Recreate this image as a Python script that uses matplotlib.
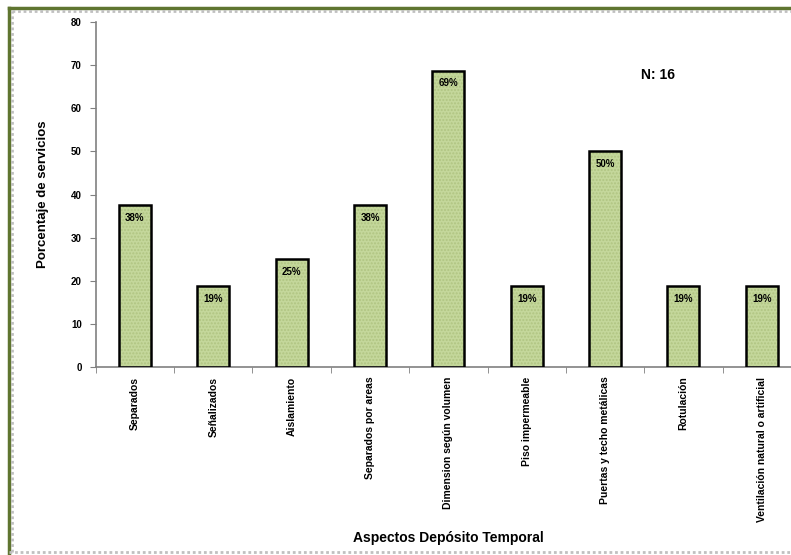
import numpy as np
import matplotlib
matplotlib.use('Agg')
import matplotlib.pyplot as plt
from matplotlib.lines import Line2D

plt.rcParams['font.family'] = ['Liberation Sans', 'DejaVu Sans']
plt.rcParams['font.weight'] = 'bold'

# data
categorias = ['Separados', 'Señalizados', 'Aislamiento', 'Separados por areas',
              'Dimension según volumen', 'Piso impermeable',
              'Puertas y techo metálicas', 'Rotulación',
              'Ventilación natural o artificial']
porcentajes = [37.5, 18.75, 25.0, 37.5, 68.75, 18.75, 50.0, 18.75, 18.75]
etiquetas = ['38%', '19%', '25%', '38%', '69%', '19%', '50%', '19%', '19%']
y_ticks = [0, 10, 20, 30, 40, 50, 60, 70, 80]

fig = plt.figure(figsize=(7.91, 5.55), dpi=100)
ax = fig.add_axes([0.121, 0.3387, 0.8916, 0.6216])

x = np.arange(len(categorias))
# textured fill, then the black outline
ax.bar(x, porcentajes, width=0.41, color='#c4d79b', edgecolor='#b0c482',
       hatch='.....', linewidth=0, zorder=2)
ax.bar(x, porcentajes, width=0.41, color='none', edgecolor='black',
       linewidth=1.8, zorder=3)

for xi, v, lab in zip(x, porcentajes, etiquetas):
    ax.text(xi, v - 2.9, lab, ha='center', va='center', fontsize=7,
            fontweight='bold', zorder=4)

ax.set_xlim(-0.5, len(categorias) - 0.5)
ax.set_ylim(0, 80)
ax.set_yticks(y_ticks)
ax.tick_params(axis='y', labelsize=7, length=4, color='#808080', pad=6)
ax.set_xticks(x)
ax.set_xticklabels(categorias, rotation=90, fontsize=7.5, va='top')
ax.tick_params(axis='x', length=0, pad=7)
# ticks between categories
ax.set_xticks(np.arange(len(categorias) + 1) - 0.5, minor=True)
ax.tick_params(axis='x', which='minor', length=4, color='#808080', direction='out')

for s in ['top', 'right']:
    ax.spines[s].set_visible(False)
for s in ['left', 'bottom']:
    ax.spines[s].set_color('#808080')
    ax.spines[s].set_linewidth(1.2)

ax.set_ylabel('Porcentaje de servicios', fontsize=9.5, fontweight='bold', labelpad=16)
fig.text(0.567, 0.031, 'Aspectos Depósito Temporal', ha='center', va='center',
         fontsize=10, fontweight='bold')
fig.text(0.832, 0.865, 'N: 16', ha='center', va='center', fontsize=10, fontweight='bold')

# chart frame
fig.add_artist(Line2D([9 / 791, 9 / 791], [0, 1 - 8 / 555], color='#5f7530', lw=2.5,
                      transform=fig.transFigure))
fig.add_artist(Line2D([9 / 791, 1], [1 - 8 / 555, 1 - 8 / 555], color='#5f7530', lw=2.5,
                      transform=fig.transFigure))
fig.add_artist(Line2D([12 / 791, 1], [1 - 11 / 555, 1 - 11 / 555], color='#c0c0c0', lw=2,
                      ls=(0, (1, 1)), transform=fig.transFigure))
fig.add_artist(Line2D([12 / 791, 12 / 791], [3 / 555, 1 - 11 / 555], color='#c0c0c0', lw=2,
                      ls=(0, (1, 1)), transform=fig.transFigure))
fig.add_artist(Line2D([9 / 791, 1], [3 / 555, 3 / 555], color='#c0c0c0', lw=2,
                      ls=(0, (1, 1)), transform=fig.transFigure))

fig.savefig('out.png', dpi=100)
